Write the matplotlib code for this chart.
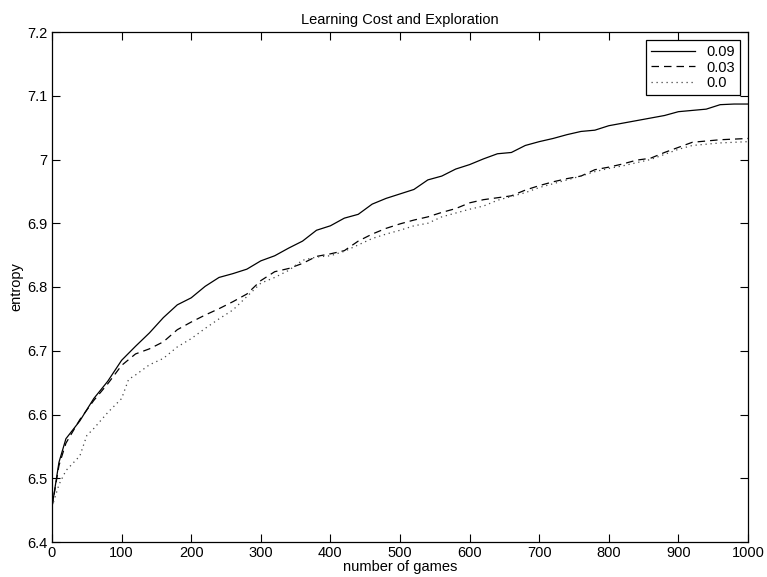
import matplotlib
matplotlib.use("Agg")
import matplotlib.pyplot as plt

plt.rcParams['font.family'] = ['Liberation Sans', 'DejaVu Sans']

# Entropy vs. number of games for three exploration costs
games_a = [0, 10, 20, 40, 60, 80, 100, 120, 140, 160, 180, 200, 220, 240, 260, 280,
           300, 320, 340, 360, 380, 400, 420, 440, 460, 480, 500, 520, 540, 560, 580,
           600, 620, 640, 660, 680, 700, 720, 740, 760, 780, 800, 820, 840, 860, 880,
           900, 920, 940, 960, 980, 1000]
entropy_009 = [6.455, 6.525, 6.562, 6.590, 6.625, 6.652, 6.685, 6.707, 6.728, 6.752,
               6.772, 6.783, 6.801, 6.815, 6.821, 6.828, 6.841, 6.849, 6.861, 6.872,
               6.889, 6.896, 6.908, 6.914, 6.930, 6.939, 6.946, 6.953, 6.968, 6.974,
               6.985, 6.992, 7.001, 7.009, 7.011, 7.022, 7.028, 7.033, 7.039, 7.044,
               7.046, 7.053, 7.057, 7.061, 7.065, 7.069, 7.075, 7.077, 7.079, 7.086,
               7.087, 7.087]
entropy_003 = [6.455, 6.520, 6.555, 6.592, 6.622, 6.648, 6.677, 6.695, 6.703, 6.714,
               6.733, 6.745, 6.756, 6.766, 6.777, 6.789, 6.810, 6.824, 6.829, 6.837,
               6.848, 6.852, 6.857, 6.872, 6.883, 6.892, 6.899, 6.905, 6.910, 6.917,
               6.923, 6.932, 6.937, 6.940, 6.943, 6.952, 6.959, 6.965, 6.970, 6.974,
               6.984, 6.988, 6.993, 6.999, 7.002, 7.011, 7.019, 7.027, 7.029, 7.031,
               7.032, 7.033]

games_b = [0, 10, 20, 40, 50, 60, 80, 100, 110, 120, 140, 160, 180, 200, 220, 240, 260,
           280, 300, 320, 340, 360, 380, 400, 420, 440, 460, 480, 500, 520, 540, 560,
           580, 600, 620, 640, 660, 680, 700, 720, 740, 760, 780, 800, 820, 840, 860,
           880, 900, 920, 940, 960, 980, 1000]
entropy_000 = [6.455, 6.490, 6.512, 6.535, 6.567, 6.578, 6.603, 6.625, 6.655, 6.662,
               6.678, 6.688, 6.706, 6.719, 6.735, 6.750, 6.764, 6.785, 6.806, 6.815,
               6.826, 6.842, 6.847, 6.849, 6.856, 6.866, 6.876, 6.883, 6.889, 6.896,
               6.900, 6.910, 6.916, 6.922, 6.927, 6.936, 6.942, 6.948, 6.956, 6.962,
               6.968, 6.974, 6.981, 6.986, 6.990, 6.995, 7.000, 7.008, 7.016, 7.022,
               7.024, 7.026, 7.027, 7.028]

labels = ['0.09', '0.03', '0.0']
x_ticks = [0, 100, 200, 300, 400, 500, 600, 700, 800, 900, 1000]
y_ticks = [6.4, 6.5, 6.6, 6.7, 6.8, 6.9, 7.0, 7.1, 7.2]
y_tick_labels = ['6.4', '6.5', '6.6', '6.7', '6.8', '6.9', '7', '7.1', '7.2']

fig = plt.figure(figsize=(7.67, 5.77), dpi=100)
ax = fig.add_axes([52 / 767, 1 - 542 / 577, 696 / 767, 510 / 577])

ax.plot(games_a, entropy_009, color='black', linewidth=0.9, linestyle='-', label=labels[0])
ax.plot(games_a, entropy_003, color='black', linewidth=0.9, linestyle=(0, (6, 4)), label=labels[1])
ax.plot(games_b, entropy_000, color='#444444', linewidth=0.9, linestyle=(0, (1, 3)), label=labels[2])

ax.set_xlim(0, 1000)
ax.set_ylim(6.4, 7.2)
ax.set_xticks(x_ticks)
ax.set_yticks(y_ticks)
ax.set_yticklabels(y_tick_labels)
ax.tick_params(direction='in', top=True, right=True, length=6, width=0.8,
               labelsize=10.5, pad=3)
for sp in ax.spines.values():
    sp.set_linewidth(0.9)

ax.set_xlabel('number of games', fontsize=10.5, labelpad=0)
ax.set_ylabel('entropy', fontsize=10.5, labelpad=3)
ax.set_title('Learning Cost and Exploration', fontsize=10.5, pad=6)

leg = ax.legend(loc='upper right', fontsize=10.5, frameon=True, fancybox=False,
                edgecolor='black', framealpha=1, handlelength=3.0,
                borderaxespad=0.55, labelspacing=0.1, borderpad=0.35)
leg.get_frame().set_linewidth(0.9)

fig.savefig('out.png', dpi=100)
